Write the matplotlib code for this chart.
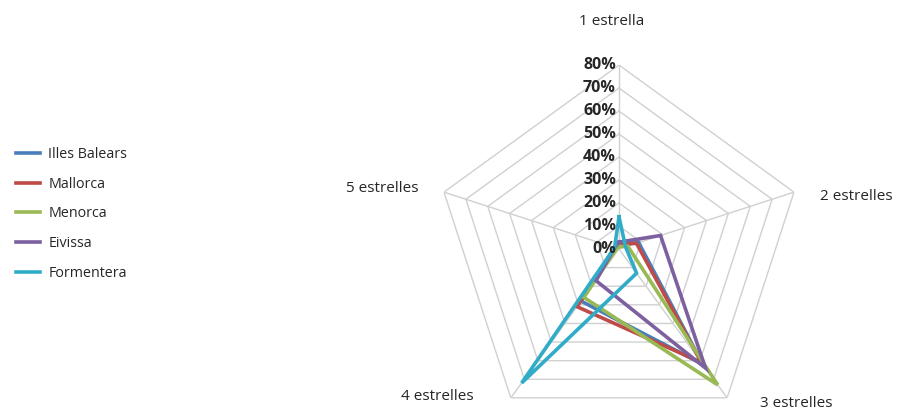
import numpy as np
import matplotlib
matplotlib.use("Agg")
import matplotlib.pyplot as plt

plt.rcParams['font.family'] = ['Open Sans', 'DejaVu Sans']

# data (share of establishments by category)
categories = ["1 estrella", "2 estrelles", "3 estrelles", "4 estrelles", "5 estrelles"]
series_names = ["Illes Balears", "Mallorca", "Menorca", "Eivissa", "Formentera"]
illes_balears = [0.02, 0.09, 0.62, 0.28, 0.02]
mallorca = [0.02, 0.08, 0.61, 0.31, 0.02]
menorca = [0.01, 0.04, 0.73, 0.26, 0.01]
eivissa = [0.03, 0.19, 0.64, 0.17, 0.02]
formentera = [0.14, 0.03, 0.13, 0.72, 0.02]
tick_values = [0, 0.1, 0.2, 0.3, 0.4, 0.5, 0.6, 0.7, 0.8]
tick_labels = ["0%", "10%", "20%", "30%", "40%", "50%", "60%", "70%", "80%"]

colors = ["#4A7EBB", "#BE4B48", "#98B954", "#7D60A0", "#31ACC8"]
all_series = [illes_balears, mallorca, menorca, eivissa, formentera]

fig = plt.figure(figsize=(8.98, 4.12), dpi=100)
ax = fig.add_axes([0.4844, -0.051, 0.4098, 0.8932], projection='polar')
ax.set_theta_zero_location('N')
ax.set_theta_direction(-1)

n = len(categories)
angles = np.arange(n) * 2 * np.pi / n
closed = np.append(angles, angles[0])

# pentagon grid
grid_col = "#D0D0D0"
for r in tick_values[1:]:
    ax.plot(closed, [r] * (n + 1), color=grid_col, lw=1, zorder=1)
for a in angles:
    ax.plot([a, a], [0, tick_values[-1]], color=grid_col, lw=1, zorder=1)

lines = []
for name, vals, c in zip(series_names, all_series, colors):
    ln, = ax.plot(closed, vals + vals[:1], color=c, lw=2.6, label=name, zorder=3,
                  solid_joinstyle='miter')
    lines.append(ln)

ax.set_ylim(0, tick_values[-1])
ax.grid(False)
ax.set_xticks([])
ax.set_yticks([])
ax.spines['polar'].set_visible(False)
ax.patch.set_visible(False)

for v, lab in zip(tick_values, tick_labels):
    ax.annotate(lab, xy=(0, v), xytext=(-3, 0), textcoords='offset pixels',
                ha='right', va='center', fontsize=11.5, fontweight='bold',
                color='#262626', zorder=4)

# category labels
offs = [(-7, 44, 'center'), (26, -4, 'left'), (33, -6, 'left'),
        (-37, 1, 'right'), (-25, 4, 'right')]
for a, lab, (dx, dy, ha) in zip(angles, categories, offs):
    ax.annotate(lab, xy=(a, tick_values[-1]), xytext=(dx, dy), textcoords='offset pixels',
                ha=ha, va='center', fontsize=11, color='#262626', annotation_clip=False)

fig.legend(handles=lines, loc='center left', bbox_to_anchor=(0.003, 0.481),
           frameon=False, fontsize=10.3, handlelength=1.7, handletextpad=0.6,
           labelspacing=1.03, labelcolor='#262626')

fig.savefig("out.png", dpi=100)
